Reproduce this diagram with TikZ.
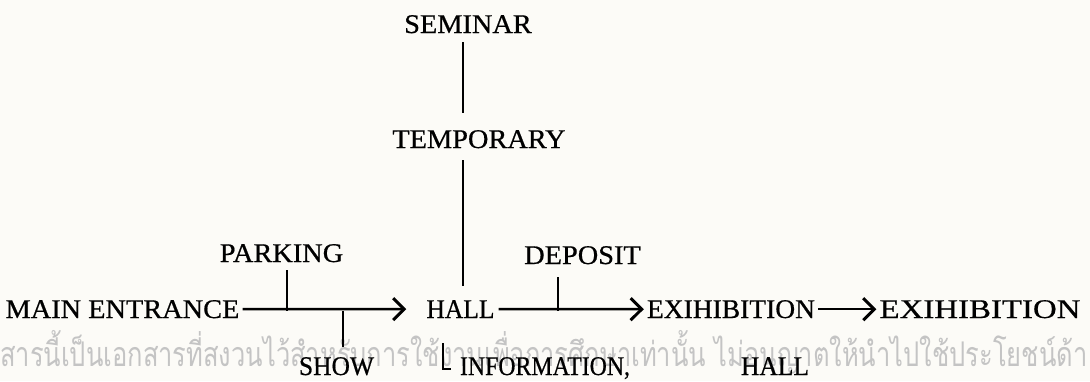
\documentclass[tikz,border=0pt]{standalone}
\usepackage{fontspec}
\setmainfont{Liberation Serif}[FakeStretch=1.05,FakeBold=0.6]
\newfontfamily\thaifont[Script=Thai]{Loma}
\usetikzlibrary{arrows.meta}
\definecolor{paper}{HTML}{FCFBF7}
\definecolor{wm}{HTML}{C4C4C4}
\begin{document}
\begin{tikzpicture}[x=1pt,y=-1pt,
  lbl/.style={inner sep=0pt, anchor=base, font=\fontsize{27}{32}\selectfont},
  conn/.style={line width=2.4pt},
  arr/.style={conn, -{Straight Barb[length=11pt,width=22pt,line width=3pt]}}]
\fill[paper] (0,0) rectangle (1090,381);
\useasboundingbox (0,0) rectangle (1090,381);
% watermark
\node[inner sep=0pt, anchor=base west, text=wm, font=\thaifont\fontsize{34}{40}\selectfont] (wm) at (0,366) {\scalebox{0.75}[1]{สารนี้เป็นเอกสารที่สงวนไว้สำหรับการใช้งานเพื่อการศึกษาเท่านั้น ไม่อนุญาตให้นำไปใช้ประโยชน์ด้า}};
% labels
\node[lbl] (seminar) at (468,33) {SEMINAR};
\node[lbl] (temporary) at (479,148) {TEMPORARY};
\node[lbl] (parking) at (281.5,262) {PARKING};
\node[lbl] (deposit) at (582.5,264) {DEPOSIT};
\node[lbl] (main) at (122.5,318) {MAIN ENTRANCE};
\node[lbl] (hall) at (460.5,318) {\scalebox{0.9}[1]{HALL}};
\node[lbl] (exh1) at (731,318) {\scalebox{0.97}[1]{EXIHIBITION}};
\node[lbl] (exh2) at (980,318) {\scalebox{1.16}[1]{EXIHIBITION}};
\node[lbl] (show) at (336.5,375) {\scalebox{0.9}[1]{SHOW}};
\node[lbl] (info) at (545,375) {\scalebox{0.84}[1]{INFORMATION,}};
\node[lbl] (hall2) at (775,375) {\scalebox{0.9}[1]{HALL}};
% junction coordinates
\coordinate (semB) at (463,42);
\coordinate (tmpT) at (463,113);
\coordinate (tmpB) at (463,160);
\coordinate (hallT) at (463,286);
\coordinate (pkT) at (287,270);
\coordinate (pkB) at (287,311);
\coordinate (shT) at (343,311);
\coordinate (shB) at (343,347);
\coordinate (dpT) at (558,277);
\coordinate (dpB) at (558,311);
\coordinate (inT) at (443,343);
\coordinate (inB) at (443,369);
\coordinate (inF) at (451,369);
% connectors
\draw[conn] (semB) -- (tmpT);
\draw[conn] (tmpB) -- (hallT);
\draw[arr] ([xshift=3pt]main.east) -- ([xshift=-20pt]hall.west);
\draw[arr] ([xshift=4pt]hall.east) -- ([xshift=-3pt]exh1.west);
\draw[arr] ([xshift=3pt]exh1.east) -- ([xshift=-3pt]exh2.west);
\draw[conn] (pkT) -- (pkB);
\draw[conn] (shT) -- (shB);
\draw[conn] (dpT) -- (dpB);
\draw[conn] (inT) -- (inB) -- (inF);
\end{tikzpicture}
\end{document}
